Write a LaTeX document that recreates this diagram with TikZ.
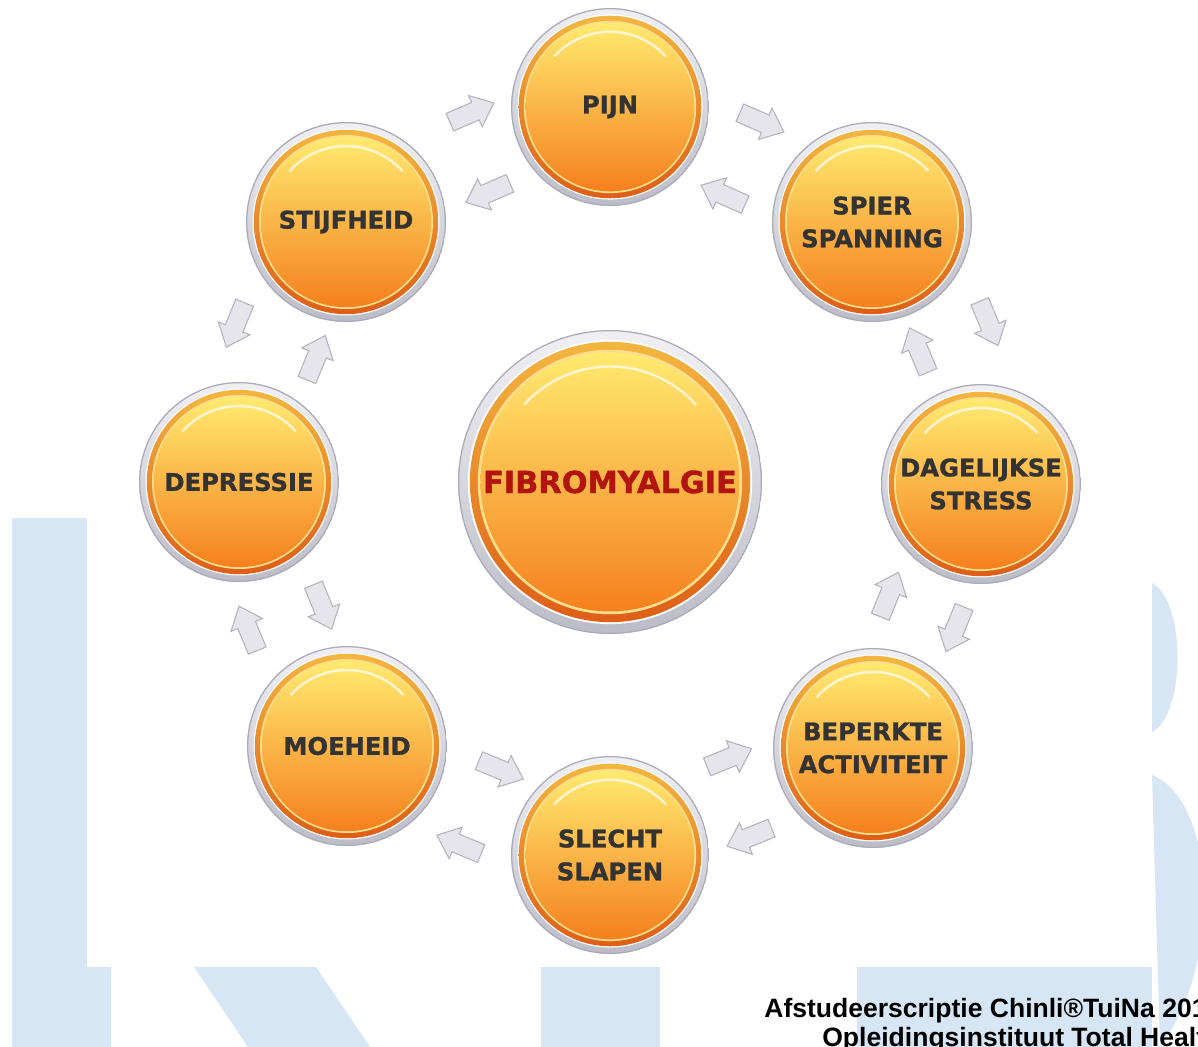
\documentclass[tikz,border=0pt]{standalone}
\usepackage{fontspec}
\setmainfont{Liberation Sans}
\newfontfamily\orbfont{DejaVu Sans}[BoldFeatures={FakeBold=1.2}]
\usetikzlibrary{shapes.arrows, positioning}

\definecolor{wmblue}{RGB}{214,230,245}
\definecolor{ringtop}{RGB}{240,240,244}
\definecolor{ringbot}{RGB}{188,188,200}
\definecolor{ringline}{RGB}{170,172,186}
\definecolor{rimtop}{RGB}{243,182,64}
\definecolor{rimbot}{RGB}{222,94,23}
\definecolor{rimline}{RGB}{253,222,140}
\definecolor{coretop}{RGB}{255,234,112}
\definecolor{coremid}{RGB}{254,198,52}
\definecolor{corebot}{RGB}{245,128,30}
\definecolor{labelgray}{RGB}{51,51,51}
\definecolor{fibrored}{RGB}{178,20,15}
\definecolor{arrowfill}{RGB}{229,229,235}
\definecolor{arrowline}{RGB}{178,179,191}

\tikzset{
  orb/.style={circle, inner sep=0pt, minimum size=#1*0.04cm, align=center,
    text=labelgray, font=\orbfont\bfseries\fontsize{13.8}{18.7}\selectfont,
    path picture={
      \coordinate (c) at (path picture bounding box.center);
      \shade[top color=ringtop, bottom color=ringbot] (c) circle[radius=#1];
      \draw[ringline, line width=0.8pt] (c) circle[radius=#1-0.6];
      \fill[white!80!ringtop] (c) circle[radius=0.935*#1];
      \shade[top color=rimtop, bottom color=rimbot] (c) circle[radius=0.922*#1];
      \fill[rimline] (c) circle[radius=0.87*#1];
      \shade[top color=coretop, middle color=coremid, bottom color=corebot]
        (c) circle[radius=0.852*#1];
      \draw[white, opacity=0.7, line width=1.4pt]
        (c) ++(222:0.76*#1) arc[start angle=222, end angle=318, radius=0.76*#1];
    }},
  hub/.style={text=fibrored, font=\orbfont\bfseries\fontsize{17.3}{20}\selectfont},
  garrow/.style={single arrow, draw=arrowline, fill=arrowfill, line width=0.6pt,
    inner xsep=0pt, inner ysep=0.18cm, minimum height=0.96cm,
    single arrow head extend=0.15cm, single arrow tip angle=80,
    sloped, allow upside down},
  fwd/.style={garrow},
  bwd/.style={garrow, shape border rotate=180},
  caption/.style={anchor=base west, inner sep=0pt,
    font=\bfseries\fontsize{15.1}{17}\selectfont},
}

\begin{document}
\begin{tikzpicture}[x=0.02cm, y=-0.02cm]
  \useasboundingbox (0,0) rectangle (1198,1047);
  \clip (0,0) rectangle (1198,1047);

  % watermark letters behind the chart
  \fill[wmblue] (12,518) rectangle (111,1047);
  \fill[wmblue] (194,967) -- (316,967) -- (370,1047) -- (248,1047) -- cycle;
  \fill[wmblue] (541,967) rectangle (660,1047);
  \fill[wmblue] (857,967) rectangle (1152,1047);
  \fill[wmblue] (1152,583) .. controls (1186,600) and (1186,715) .. (1152,732) -- cycle;
  \fill[wmblue] (1152,775) .. controls (1215,800) and (1225,960) .. (1160,1047) -- cycle;
  \fill[white] (87,0) rectangle (1152,967);

  % the cycle of complaints
  \node[orb=99]  (pijn)   at (610,107) {PIJN};
  \node[orb=100] (spier)  at (872,222) {SPIER\\SPANNING};
  \node[orb=100] (stress) at (981,484) {DAGELIJKSE\\STRESS};
  \node[orb=100] (activ)  at (873,748) {BEPERKTE\\ACTIVITEIT};
  \node[orb=99]  (slaap)  at (610,855) {SLECHT\\SLAPEN};
  \node[orb=100] (moe)    at (347,746) {MOEHEID};
  \node[orb=100] (depr)   at (239,482) {DEPRESSIE};
  \node[orb=100] (stijf)  at (346,222) {STIJFHEID};
  \node[orb=152, hub] (fibro) at (610,482) {FIBROMYALGIE};

  % arrows in both directions between neighbours
  \path[every edge/.style={draw=none}]
    (pijn)   edge node[fwd, xshift=-0.06cm, yshift=0.94cm]  (a1)  {}
                  node[bwd, xshift=0.04cm,  yshift=-0.70cm] (a2)  {} (spier)
    (spier)  edge node[fwd, xshift=-0.18cm, yshift=1.38cm]  (a3)  {}
                  node[bwd, xshift=0cm,     yshift=-0.12cm] (a4)  {} (stress)
    (stress) edge node[fwd, xshift=-0.08cm, yshift=0.62cm]  (a5)  {}
                  node[bwd, xshift=0cm,     yshift=-0.86cm] (a6)  {} (activ)
    (activ)  edge node[fwd, xshift=0cm,     yshift=0.72cm]  (a7)  {}
                  node[bwd, xshift=0cm,     yshift=-0.90cm] (a8)  {} (slaap)
    (slaap)  edge node[fwd, xshift=-0.08cm, yshift=0.96cm]  (a9)  {}
                  node[bwd, xshift=-0.06cm, yshift=-0.74cm] (a10) {} (moe)
    (moe)    edge node[fwd, xshift=-0.04cm, yshift=0.94cm]  (a11) {}
                  node[bwd, xshift=0.02cm,  yshift=-0.60cm] (a12) {} (depr)
    (depr)   edge node[bwd, xshift=0.18cm,  yshift=1.26cm]  (a13) {}
                  node[fwd, xshift=-0.04cm, yshift=-0.48cm] (a14) {} (stijf)
    (stijf)  edge node[fwd, xshift=0.18cm,  yshift=1.00cm]  (a15) {}
                  node[bwd, xshift=0.06cm,  yshift=-0.60cm] (a16) {} (pijn);

  % footer
  \node[caption] (line1) at (764,1017) {Afstudeerscriptie Chinli®TuiNa 201};
  \node[caption] (line2) at (822,1046) {Opleidingsinstituut Total Health};
\end{tikzpicture}
\end{document}
